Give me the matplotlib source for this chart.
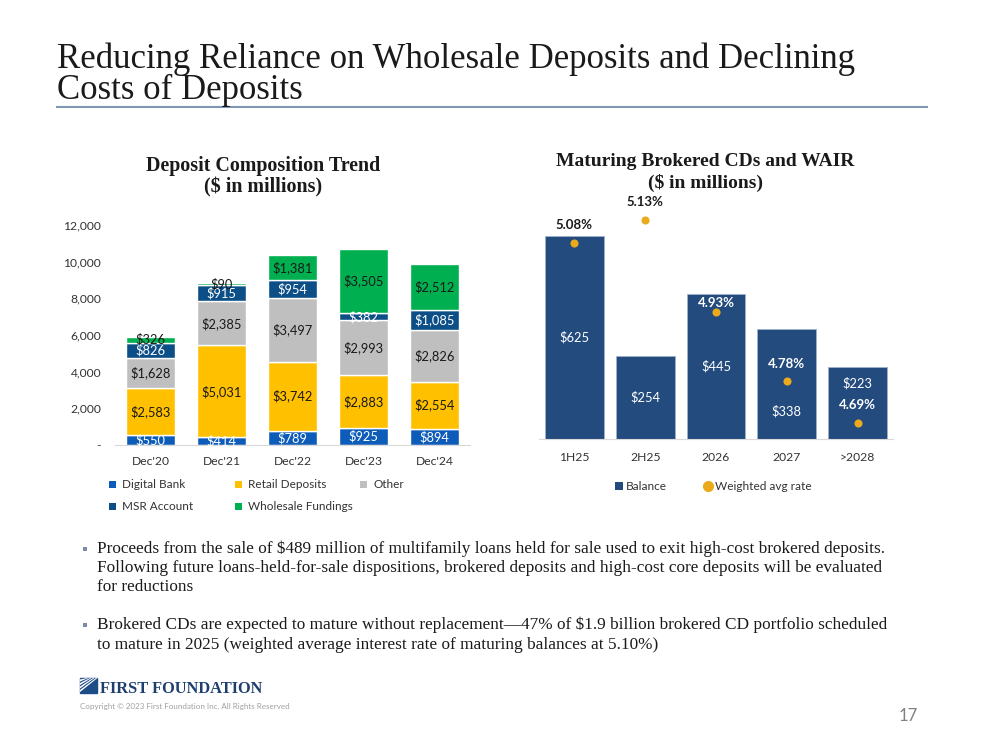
import matplotlib.pyplot as plt
from matplotlib.patches import Rectangle, Polygon
from matplotlib.lines import Line2D

# ---- dados ----
anos = ["Dec'20", "Dec'21", "Dec'22", "Dec'23", "Dec'24"]
digital_bank = [550, 414, 789, 925, 894]
retail_deposits = [2583, 5031, 3742, 2883, 2554]
other = [1628, 2385, 3497, 2993, 2826]
msr_account = [826, 915, 954, 382, 1085]
wholesale = [326, 90, 1381, 3505, 2512]

periodos = ["1H25", "2H25", "2026", "2027", ">2028"]
balance = [625, 254, 445, 338, 223]
wair = [5.08, 5.13, 4.93, 4.78, 4.69]

SANS = ["Lato", "DejaVu Sans"]
SERIF = ["Liberation Serif", "DejaVu Serif"]
TXT = "#1A1A1A"

fig = plt.figure(figsize=(9.99, 7.5), dpi=100)
W, H = 999, 750


def fx(px):
    return px / W


def fy(py):
    return 1 - py / H


# ---- titulo ----
fig.text(fx(57), fy(68), "Reducing Reliance on Wholesale Deposits and Declining",
         family=SERIF, fontsize=25, color=TXT, va="baseline", ha="left")
fig.text(fx(57), fy(99), "Costs of Deposits",
         family=SERIF, fontsize=25, color=TXT, va="baseline", ha="left")
fig.add_artist(Line2D([fx(57), fx(927)], [fy(106.5), fy(106.5)], color="#7D97B3", lw=1.5))

# ---- grafico esquerdo: composicao ----
cores = ["#0E5CB9", "#FFC000", "#BFBFBF", "#0B4F86", "#00B050"]
nomes = ["Digital Bank", "Retail Deposits", "Other", "MSR Account", "Wholesale Fundings"]
series = [digital_bank, retail_deposits, other, msr_account, wholesale]
cor_rotulo = ["white", TXT, TXT, "white", TXT]

ax1 = fig.add_axes([fx(115), fy(445), fx(470) - fx(115), fy(225) - fy(445)])
x = list(range(len(anos)))
base = [0] * len(anos)
for serie, cor, cr in zip(series, cores, cor_rotulo):
    ax1.bar(x, serie, bottom=base, width=0.7, color=cor, edgecolor="white", linewidth=1.0)
    for xi, b, v in zip(x, base, serie):
        ax1.text(xi, b + v / 2, f"${v:,}", ha="center", va="center", fontsize=9.3,
                 color=cr, family=SANS)
    base = [b + v for b, v in zip(base, serie)]

ax1.set_xlim(-0.5, 4.5)
ax1.set_ylim(0, 12000)
ax1.set_yticks(range(0, 12001, 2000))
ax1.set_yticklabels(["-"] + [f"{v:,}" for v in range(2000, 12001, 2000)])
ax1.set_xticks(x)
ax1.set_xticklabels(anos)
for s in ["top", "right", "left"]:
    ax1.spines[s].set_visible(False)
ax1.spines["bottom"].set_color("#D9D9D9")
ax1.tick_params(length=0, labelsize=8.7, colors="#333333")
ax1.tick_params(axis="x", pad=8)
ax1.tick_params(axis="y", pad=10)
for lbl in ax1.get_xticklabels() + ax1.get_yticklabels():
    lbl.set_family(SANS)

# legenda manual (2 linhas, colunas fixas)
pos_leg = [(112, 484), (238, 484), (363, 484), (112, 506), (238, 506)]
for (px, py), cor, nome in zip(pos_leg, cores, nomes):
    fig.add_artist(Rectangle((fx(px - 3.5), fy(py + 3.5)), fx(7), fy(py - 3.5) - fy(py + 3.5),
                             color=cor, lw=0))
    fig.text(fx(px + 10), fy(py), nome, family=SANS, fontsize=8.5, color="#333333",
             va="center", ha="left")

fig.text(fx(263), fy(170.7), "Deposit Composition Trend", ha="center", va="baseline",
         family=SERIF, fontsize=14.4, weight="bold", color=TXT)
fig.text(fx(263), fy(192.7), "($ in millions)", ha="center", va="baseline",
         family=SERIF, fontsize=14.4, weight="bold", color=TXT)

# ---- grafico direito: CDs ----
ax2 = fig.add_axes([fx(539), fy(439), fx(893) - fx(539), fy(205) - fy(439)])
xr = list(range(len(periodos)))
ax2.bar(xr, balance, width=0.83, color="#234B7E", edgecolor="#9DB3CD", linewidth=0.6)
ax2.set_xlim(-0.5, 4.5)
ax2.set_ylim(0, 720)
ax2.set_yticks([])
ax2.set_xticks(xr)
ax2.set_xticklabels(periodos)
for s in ["top", "right", "left"]:
    ax2.spines[s].set_visible(False)
ax2.spines["bottom"].set_color("#D9D9D9")
ax2.tick_params(length=0, labelsize=8.7, colors="#333333", pad=9)
for lbl in ax2.get_xticklabels():
    lbl.set_family(SANS)

# posicao relativa dos rotulos de saldo dentro da barra
frac_rotulo = [0.5, 0.5, 0.5, 0.25, 0.77]
for xi, v, f in zip(xr, balance, frac_rotulo):
    ax2.text(xi, v * f, f"${v}", ha="center", va="center", fontsize=9.3, color="white", family=SANS)

ax3 = ax2.twinx()
ax3.set_ylim(4.655, 4.655 + (439 - 205) / 462)
ax3.scatter(xr, wair, s=34, color="#EBA91C", zorder=5, linewidths=0)
cor_taxa = [TXT, TXT, "white", "white", "white"]
desloc = [12.5, 12.5, 6.5, 12.5, 12.5]
for xi, r, c, d in zip(xr, wair, cor_taxa, desloc):
    ax3.annotate(f"{r:.2f}%", (xi, r), xytext=(0, d), textcoords="offset points",
                 ha="center", va="center", fontsize=9.5, weight="bold", color=c, family=SANS)
ax3.set_yticks([])
for s in ax3.spines.values():
    s.set_visible(False)

# legenda manual
fig.add_artist(Rectangle((fx(615), fy(490)), fx(8), fy(482) - fy(490), color="#234B7E", lw=0))
fig.text(fx(626), fy(486), "Balance", family=SANS, fontsize=8.6, color="#333333", va="center")
fig.add_artist(Line2D([fx(708)], [fy(486)], marker="o", color="#EBA91C", markersize=7, ls=""))
fig.text(fx(715), fy(486), "Weighted avg rate", family=SANS, fontsize=8.6, color="#333333",
         va="center")

fig.text(fx(705), fy(165.5), "Maturing Brokered CDs and WAIR", ha="center", va="baseline",
         family=SERIF, fontsize=14, weight="bold", color=TXT)
fig.text(fx(705), fy(188), "($ in millions)", ha="center", va="baseline",
         family=SERIF, fontsize=14, weight="bold", color=TXT)

# ---- bullets ----
bullets = [
    (552.7, ["Proceeds from the sale of $489 million of multifamily loans held for sale used to exit high-cost brokered deposits.",
             "Following future loans-held-for-sale dispositions, brokered deposits and high-cost core deposits will be evaluated",
             "for reductions"]),
    (629.3, ["Brokered CDs are expected to mature without replacement\u201447% of $1.9 billion brokered CD portfolio scheduled",
             "to mature in 2025 (weighted average interest rate of maturing balances at 5.10%)"]),
]
for y0, linhas in bullets:
    fig.add_artist(Rectangle((fx(82.5), fy(y0 - 2)), fx(4), fy(y0 - 6) - fy(y0 - 2),
                             color="#7C8CA8", lw=0))
    for k, linha in enumerate(linhas):
        fig.text(fx(97), fy(y0 + 19.3 * k), linha, family=SERIF, fontsize=12.45, color=TXT,
                 va="baseline", ha="left")

# ---- rodape ----
fig.add_artist(Rectangle((fx(80), fy(693)), fx(17), fy(678) - fy(693), color="#1E4C86"))
for k in range(4):
    fig.add_artist(Polygon([[fx(80), fy(690 - 3.5 * k)], [fx(96 - 3 * k), fy(678)],
                            [fx(97.5 - 3 * k), fy(678)], [fx(80), fy(692 - 3.5 * k)]],
                           closed=True, color="white", lw=0))
fig.text(fx(100), fy(693), "FIRST FOUNDATION", family=SERIF, fontsize=11.8, weight="bold",
         color="#1E3F6E", va="baseline", ha="left")
fig.text(fx(80), fy(706), "Copyright \u00a9 2023 First Foundation Inc. All Rights Reserved",
         family=SANS, fontsize=5.8, color="#A0A0A0", va="center", ha="left")
fig.text(fx(918), fy(716), "17", family=SANS, fontsize=12, color="#808080", va="center", ha="right")

fig.savefig("out.png", dpi=100)
